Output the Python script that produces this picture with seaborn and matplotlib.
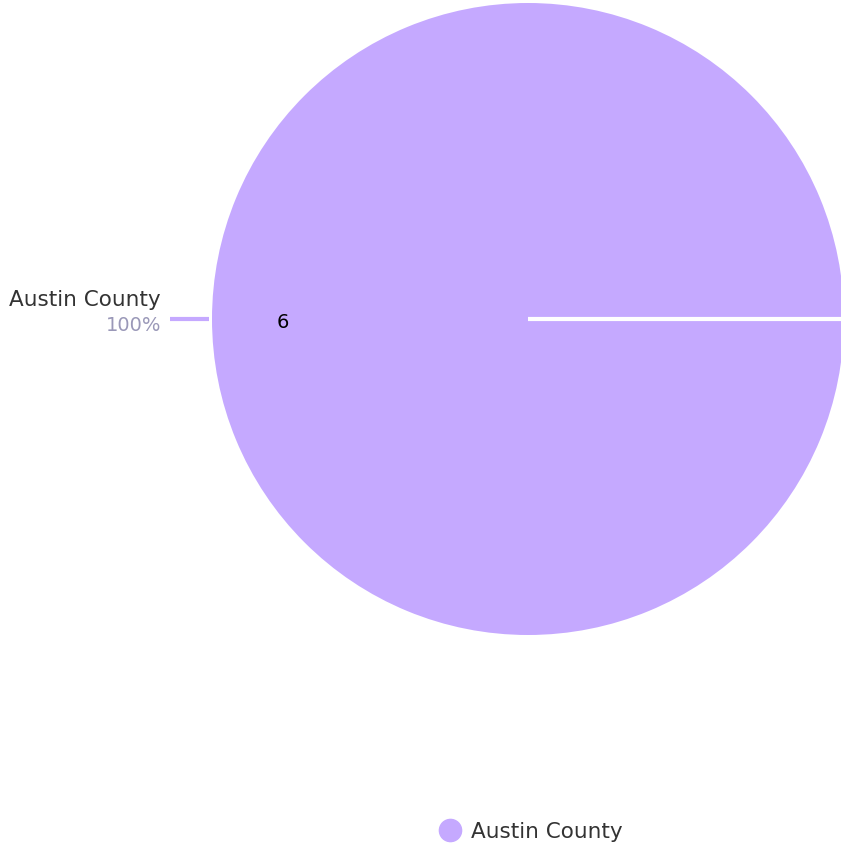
import matplotlib
matplotlib.use("Agg")
import matplotlib.pyplot as plt
import seaborn as sns
from matplotlib.lines import Line2D

categories = ["Austin County"]
values = [6]
colors = ["#c5a9ff"]

sns.set_theme(style="white")
plt.rcParams['font.family'] = ['DejaVu Sans']

W, H = 841, 847
fig = plt.figure(figsize=(W / 100, H / 100), dpi=100)
ax = fig.add_axes([0, 0, 1, 1])

cx, cy, r = 528, H - 319, 316
total = sum(values)
wedges, _ = ax.pie(values, colors=colors, center=(cx, cy), radius=r,
                   startangle=0, counterclock=False, frame=True,
                   wedgeprops=dict(linewidth=0))
ax.set_xlim(0, W)
ax.set_ylim(0, H)
ax.set_aspect('equal')
ax.axis('off')

# slice boundary at start angle
ax.plot([cx, cx + r + 5], [cy, cy], color="white", lw=3, solid_capstyle='butt', zorder=5)

# value label inside
ax.text(283, H - 322, str(values[0]), fontsize=14, color="black", ha="center", va="center")

# outside label with connector
ax.plot([170, 209], [cy, cy], color=colors[0], lw=3, solid_capstyle='butt')
ax.text(161, H - 300, categories[0], fontsize=15.5, color="#333333", ha="right", va="center")
pct = values[0] / total * 100
ax.text(161, H - 325, f"{pct:.0f}%", fontsize=14, color="#9a98b8", ha="right", va="center")

# legend
handles = [Line2D([0], [0], marker='o', color='none', markerfacecolor=c, markeredgecolor=c,
                  markersize=16) for c in colors]
leg = fig.legend(handles, categories, loc="center", bbox_to_anchor=(530 / W, 1 - 832 / H),
                 frameon=False, fontsize=15.5, handletextpad=0.4, handlelength=1.2)
for t in leg.get_texts():
    t.set_color("#333333")

fig.savefig("out.png", dpi=100)
